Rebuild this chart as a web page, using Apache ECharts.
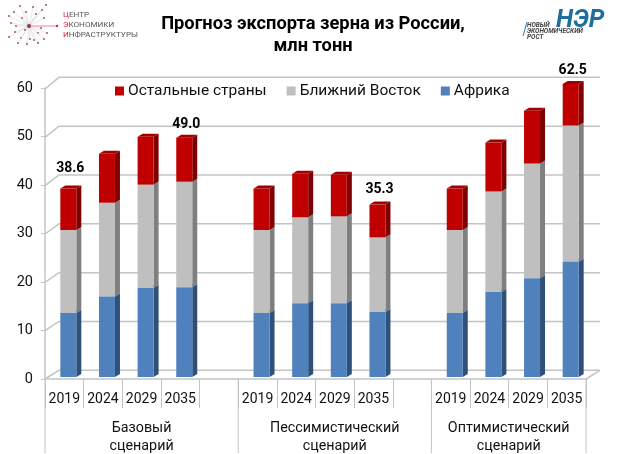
<!DOCTYPE html>
<html><head><meta charset="utf-8">
<style>html,body{margin:0;padding:0;background:#fff}#c{width:617px;height:454px}</style>
<script src="https://cdn.jsdelivr.net/npm/echarts@6/dist/echarts.min.js"></script>
</head><body><div id="c"></div>
<script>
const years = ['2019','2024','2029','2035','','2019','2024','2029','2035','','2019','2024','2029','2035'];
const africa = [13.1,16.5,18.2,18.4,null,13.1,15.1,15.1,13.3,null,13.1,17.4,20.2,23.6];
const middleEast = [17.0,19.2,21.2,21.6,null,17.0,17.6,17.8,15.3,null,17.0,20.6,23.5,27.9];
const others = [8.5,10.0,9.8,9.0,null,8.5,8.9,8.5,6.7,null,8.5,10.0,10.8,11.0];
const seriesNames = ['Остальные страны','Ближний Восток','Африка'];
const totalIndex = [0,3,8,13];
const totalValues = [38.6,49.0,35.3,62.5];
const groupLabels = ['Базовый\nсценарий','Пессимистический\nсценарий','Оптимистический\nсценарий'];
const groupStart = [0,5,10];
const groupEnd = [5,10,14];
const yTicks = [0,10,20,30,40,50,60];

const FONT = 'Roboto';
const AXIS = '#C4C4C4';
const YMAX = 60, DX = 5, DY = 3, BW = 16, SHIFT = 4;
const labelLift = [20,13,15,14];

function barSeries(name, vals, base, face, side, top){
  return {
    type:'custom', name, xAxisIndex:1, yAxisIndex:1, silent:true, z:3, clip:false,
    itemStyle:{color:face},
    data: vals.map((v,i)=> v==null ? null : [i, base[i], base[i]+v]).filter(Boolean),
    renderItem(params, api){
      const i = api.value(0);
      const a = api.coord([i, Math.min(api.value(1),YMAX)]);
      const b = api.coord([i, Math.min(api.value(2),YMAX)]);
      const x = a[0]+SHIFT-BW/2, y0=a[1], y1=b[1];
      return {type:'group', children:[
        {type:'polygon', shape:{points:[[x+BW,y0],[x+BW+DX,y0-DY],[x+BW+DX,y1-DY],[x+BW,y1]]}, style:{fill:side}},
        {type:'polygon', shape:{points:[[x,y1],[x+DX,y1-DY],[x+BW+DX,y1-DY],[x+BW,y1]]}, style:{fill:top}},
        {type:'rect', shape:{x,y:y1,width:BW,height:y0-y1}, style:{fill:face}}
      ]};
    }
  };
}
const base0 = africa.map(()=>0);
const base1 = africa.map(v=>v||0);
const base2 = africa.map((v,i)=>(v||0)+(middleEast[i]||0));

const wallSeries = {
  type:'custom', xAxisIndex:1, yAxisIndex:1, silent:true, z:1, clip:false,
  data: yTicks.map(v=>[0,v]),
  renderItem(params, api){
    const v = api.value(1);
    const p = api.coord([0,v]);
    const half = api.size([1,0])[0]/2;
    const left = p[0]-half, right = left+half*2*years.length;
    const yb = p[1]-6.7, yf = p[1]+2+v*0.05;
    const kids = [{type:'polyline', shape:{points:[[left,yf],[left+14,yb],[right+14,yb]]}, style:{stroke:AXIS,lineWidth:1.5,fill:null}}];
    if(v===0) kids.push({type:'line', shape:{x1:right,y1:yf,x2:right+14,y2:yb}, style:{stroke:AXIS,lineWidth:1.5}});
    return {type:'group', children:kids};
  }
};
const groupSeries = {
  type:'custom', xAxisIndex:0, yAxisIndex:0, silent:true, z:2, clip:false,
  data: groupStart.map((s,i)=>[s,groupEnd[i],i]),
  renderItem(params, api){
    const s=api.value(0), e=api.value(1), k=api.value(2);
    const half = api.size([1,0])[0]/2;
    const a = api.coord([s,0])[0]-half, b = api.coord([e-1,0])[0]+half, y=api.coord([s,0])[1];
    const kids = [
      {type:'line', shape:{x1:a,y1:y,x2:a,y2:y+74}, style:{stroke:AXIS,lineWidth:1}},
      {type:'text', style:{text:groupLabels[k], x:(a+b)/2, y:y+41, align:'center', verticalAlign:'top',
        font:'14.3px '+FONT, fill:'#111', lineHeight:17.5}}
    ];
    if(k===groupStart.length-1) kids.push({type:'line', shape:{x1:b,y1:y,x2:b,y2:y+74}, style:{stroke:AXIS,lineWidth:1}});
    return {type:'group', children:kids};
  }
};
const totalSeries = {
  type:'custom', xAxisIndex:1, yAxisIndex:1, silent:true, z:5, clip:false,
  data: totalIndex.map((c,i)=>[c,totalValues[i],i]),
  renderItem(params, api){
    const k=api.value(2);
    const p = api.coord([api.value(0), Math.min(api.value(1),YMAX)]);
    return {type:'text', style:{text:totalValues[k].toFixed(1), x:p[0]+SHIFT+2, y:p[1]-labelLift[k],
      align:'center', verticalAlign:'middle', font:'bold 14px '+FONT, fill:'#000'}};
  }
};

const starPts = [[9,16],[20,6],[33,7],[46,5],[11,23],[15,32],[9,37],[22,18],[36,14],[44,18],[47,33],[38,33],[30,39],[38,43],[27,44],[21,38],[16,26],[41,28],[34,40],[25,30],[26,12],[14,12],[42,10],[18,43],[44,39]];
const logoGraphics = [];
starPts.forEach(p=>{
  logoGraphics.push({type:'line', shape:{x1:29,y1:26,x2:p[0],y2:p[1]}, style:{stroke:'#DCDADB',lineWidth:0.7}, silent:true});
  logoGraphics.push({type:'circle', shape:{cx:p[0],cy:p[1],r:1.1}, style:{fill:'#A8607A'}, silent:true});
});
logoGraphics.push({type:'line', shape:{x1:29,y1:26,x2:57,y2:26}, style:{stroke:'#F0A0AE',lineWidth:1.3}, silent:true});
logoGraphics.push({type:'circle', shape:{cx:29,cy:26,r:2}, style:{fill:'#8A3A55'}, silent:true});
logoGraphics.push({type:'circle', shape:{cx:57,cy:26,r:1.2}, style:{fill:'#C03050'}, silent:true});
[['Ц','ЕНТР',16],['Э','КОНОМИКИ',26],['И','НФРАСТРУКТУРЫ',36]].forEach(r=>{
  logoGraphics.push({type:'text', left:63, top:r[2]-5, silent:true,
    style:{text:'{a|'+r[0]+'}{b|'+r[1]+'}', rich:{a:{fill:'#E0203C',font:'8.1px '+FONT},b:{fill:'#555',font:'8.1px '+FONT}}}});
});
logoGraphics.push({type:'line', shape:{x1:527,y1:22,x2:523,y2:36}, style:{stroke:'#2D7FB0',lineWidth:1}, silent:true});
logoGraphics.push({type:'text', left:556, top:8, silent:true, style:{text:'НЭР', font:'italic bold 25px '+FONT, fill:'#1E6E9E'}});
logoGraphics.push({type:'text', left:527, top:22, silent:true, style:{text:'НОВЫЙ\nЭКОНОМИЧЕСКИЙ\nРОСТ', font:'italic bold 6.5px '+FONT, fill:'#444', lineHeight:6}});

const chart = echarts.init(document.getElementById('c'), null, {renderer:'canvas', width:617, height:454});
chart.setOption({
  animation:false, backgroundColor:'#fff',
  textStyle:{fontFamily:FONT},
  title:{text:'Прогноз экспорта зерна из России,\nмлн тонн', left:308, textAlign:'center', top:9,
    textStyle:{fontFamily:FONT, fontWeight:'bold', fontSize:18.3, lineHeight:21.5, color:'#000'}},
  legend:{data:seriesNames, left:110, top:78, itemWidth:9, itemHeight:9, itemGap:20, icon:'rect',
    textStyle:{fontFamily:FONT, fontSize:15.5, color:'#111', padding:[0,0,0,-1]}, selectedMode:false},
  graphic:logoGraphics,
  grid:[
    {left:45, right:31, top:88, bottom:75},
    {left:45, right:31, top:84, bottom:77}
  ],
  xAxis:[
    {type:'category', gridIndex:0, data:years, boundaryGap:true,
      axisLine:{lineStyle:{color:AXIS,width:1.5}},
      axisTick:{show:true, length:29, interval:0, lineStyle:{color:AXIS,width:1}},
      axisLabel:{interval:0, color:'#111', fontSize:14, fontFamily:FONT, margin:13}},
    {type:'category', gridIndex:1, data:years, show:false}
  ],
  yAxis:[
    {type:'value', gridIndex:0, min:0, max:YMAX, interval:10,
      axisLine:{show:true, lineStyle:{color:AXIS,width:1.5}},
      axisTick:{show:true, length:4, lineStyle:{color:AXIS,width:1}},
      splitLine:{show:false},
      axisLabel:{color:'#111', fontSize:14.5, fontFamily:FONT, margin:12, padding:[3,0,0,0]}},
    {type:'value', gridIndex:1, min:0, max:YMAX, interval:10, show:false, splitLine:{show:false}}
  ],
  series:[
    wallSeries, groupSeries,
    barSeries(seriesNames[2], africa, base0, '#4F81BD', '#2F5078', '#4F81BD'),
    barSeries(seriesNames[1], middleEast, base1, '#BFBFBF', '#7F7F7F', '#BFBFBF'),
    barSeries(seriesNames[0], others, base2, '#C00000', '#7F0000', '#A00000'),
    totalSeries
  ]
});
</script></body></html>
